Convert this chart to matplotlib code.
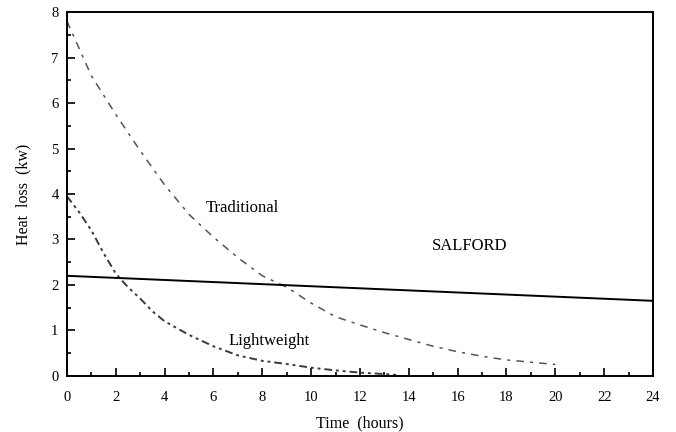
import matplotlib.pyplot as plt
import matplotlib as mpl
from matplotlib.ticker import MultipleLocator

mpl.rcParams['font.family'] = 'Liberation Serif'

# heat loss (kw) against time (hours)
trad_t = [0, 1, 2, 3, 4, 5, 6, 7, 8, 9, 10, 11, 12, 13, 14, 15, 16, 17, 18, 19, 20]
trad_q = [7.8, 6.6, 5.75, 4.95, 4.2, 3.55, 3.05, 2.6, 2.2, 1.95, 1.6, 1.3, 1.12,
          0.95, 0.8, 0.65, 0.53, 0.43, 0.35, 0.3, 0.25]

light_t = [0, 0.5, 1, 1.5, 2, 2.5, 3, 3.5, 4, 5, 6, 7, 8, 9, 10, 11, 12, 13, 13.5]
light_q = [3.95, 3.6, 3.2, 2.7, 2.25, 1.95, 1.7, 1.42, 1.2, 0.9, 0.65, 0.45, 0.33,
           0.26, 0.18, 0.12, 0.07, 0.04, 0.02]

salford_t = [0, 24]
salford_q = [2.2, 1.65]

fig = plt.figure(figsize=(6.76, 4.32), dpi=100)
ax = fig.add_axes([0.099, 0.13, 0.867, 0.842])

ax.plot(trad_t, trad_q, color='#555555', linewidth=1.1, linestyle=(0, (5, 4, 2, 4)))
ax.plot(light_t, light_q, color='#3a3a3a', linewidth=1.4, linestyle=(0, (4, 2, 1.5, 2, 1.5, 2)))
ax.plot(salford_t, salford_q, color='black', linewidth=1.4)

ax.text(7.2, 3.7, 'Traditional', fontsize=12, ha='center', va='center')
ax.text(16.5, 2.85, 'SALFORD', fontsize=12, ha='center', va='center')
ax.text(8.3, 0.77, 'Lightweight', fontsize=12, ha='center', va='center')

ax.set_xlim(0, 24)
ax.set_ylim(0, 8)
ax.xaxis.set_major_locator(MultipleLocator(2))
ax.xaxis.set_minor_locator(MultipleLocator(1))
ax.yaxis.set_major_locator(MultipleLocator(1))
ax.yaxis.set_minor_locator(MultipleLocator(0.5))
ax.tick_params(which='both', direction='in', top=False, right=False,
               width=1.2, labelsize=10.5)
ax.tick_params(axis='x', pad=11)
ax.tick_params(axis='y', pad=6)
ax.tick_params(which='major', length=6)
ax.tick_params(which='minor', length=3)
for s in ax.spines.values():
    s.set_linewidth(1.4)

ax.set_xlabel('Time  (hours)', fontsize=11.5, labelpad=8)
ax.set_ylabel('Heat  loss  (kw)', fontsize=11.5, labelpad=14)

plt.savefig('out.png', dpi=100)
